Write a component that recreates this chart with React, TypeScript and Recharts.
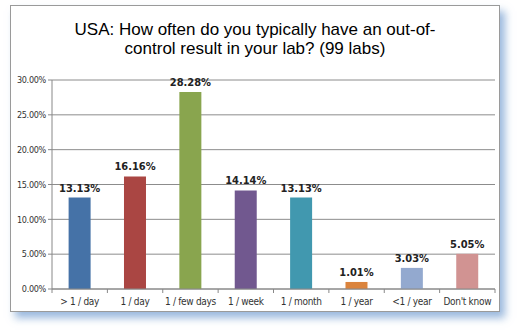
import { BarChart, Bar, XAxis, YAxis, CartesianGrid, Cell, LabelList } from "recharts"

const categories = ["> 1 / day", "1 / day", "1 / few days", "1 / week", "1 / month", "1 / year", "<1 / year", "Don't know"]
const shares = [13.13, 16.16, 28.28, 14.14, 13.13, 1.01, 3.03, 5.05]
const barColors = ["#4572A7", "#AA4643", "#89A54E", "#71588F", "#4198AF", "#DB843D", "#93A9CF", "#D19392"]
const yTicks = [0, 5, 10, 15, 20, 25, 30]

const data = categories.map((name, i) => ({ name, value: shares[i] }))

const narrow = "'DejaVu Sans Condensed', 'Liberation Sans', sans-serif"

function CategoryTick(props: any) {
  const { x, y, payload, index } = props
  const half = 443 / 8 / 2
  return (
    <g>
      <line x1={x - half} y1={y - 8} x2={x - half} y2={y - 4} stroke="#888" />
      {index === categories.length - 1 && (
        <line x1={x + half} y1={y - 8} x2={x + half} y2={y - 4} stroke="#888" />
      )}
      <text x={x} y={y + 8} textAnchor="middle" fontSize={10} fill="#333" fontFamily={narrow} letterSpacing={-0.3}>
        {payload.value}
      </text>
    </g>
  )
}

export default function App() {
  return (
    <div style={{ position: "fixed", left: 0, top: 0, width: 526, height: 332, background: "#fff" }}>
      <div
        style={{
          position: "absolute",
          left: 10,
          top: 5,
          width: 488,
          height: 305,
          border: "1px solid #9a9a9a",
          background: "#fff",
          boxShadow: "5px 6px 8px rgba(120,160,210,0.75)",
        }}
      >
        <div
          style={{
            position: "absolute",
            left: 0,
            top: 14,
            width: 488,
            textAlign: "center",
            fontFamily: "'Liberation Sans', Arial, sans-serif",
            fontSize: 17,
            lineHeight: "19px",
            color: "#000",
          }}
        >
          USA: How often do you typically have an out-of-
          <br />
          control result in your lab? (99 labs)
        </div>
        <BarChart
          width={488}
          height={305}
          data={data}
          margin={{ top: 74, right: 4, left: 0, bottom: 0 }}
          barCategoryGap="30%"
        >
          <CartesianGrid vertical={false} stroke="#8c8c8c" />
          <XAxis
            dataKey="name"
            height={22}
            stroke="#888"
            tickLine={false}
            interval={0}
            tick={<CategoryTick />}
          />
          <YAxis
            width={41}
            domain={[0, 30]}
            ticks={yTicks}
            stroke="#888"
            tickSize={4}
            tickFormatter={(v: number) => v.toFixed(2) + "%"}
            tick={{ fontSize: 9, fill: "#333", fontFamily: narrow, letterSpacing: -0.3 }}
          />
          <Bar dataKey="value" isAnimationActive={false}>
            {data.map((d, i) => (
              <Cell key={d.name} fill={barColors[i]} />
            ))}
            <LabelList
              dataKey="value"
              position="top"
              offset={6}
              formatter={(v: any) => Number(v).toFixed(2) + "%"}
              style={{ fontSize: 11, fontWeight: "bold", fill: "#222", fontFamily: narrow }}
            />
          </Bar>
        </BarChart>
      </div>
    </div>
  )
}
